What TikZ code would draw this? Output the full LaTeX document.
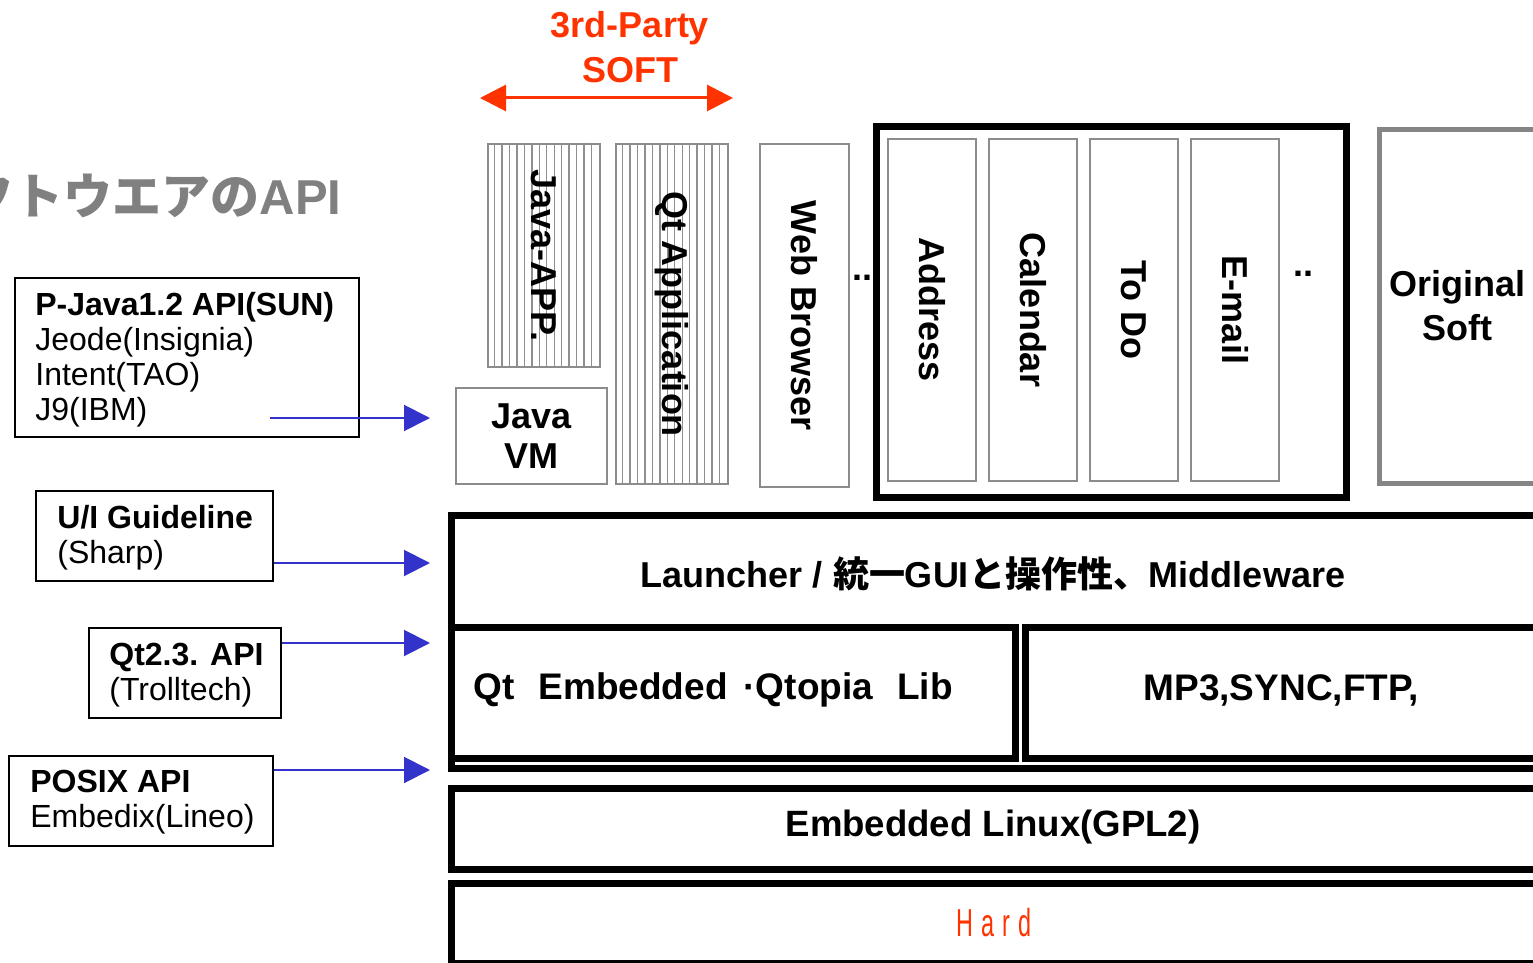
\documentclass[tikz,border=0pt]{standalone}
\usepackage{fontspec}
\setmainfont{Liberation Sans}
\newfontfamily\cjk{Noto Sans CJK JP}
\usetikzlibrary{arrows.meta}
\definecolor{boxgray}{HTML}{8C8C8C}
\definecolor{hatchgray}{HTML}{8F8F8F}
\definecolor{softred}{HTML}{FF3300}
\definecolor{apiblue}{HTML}{3333CC}
\definecolor{titlegray}{HTML}{808080}
\definecolor{origgray}{HTML}{858585}
\begin{document}
\begin{tikzpicture}[x=0.5pt,y=-0.5pt,
  thinbox/.style={draw=boxgray, line width=1pt, inner sep=0pt, anchor=north west},
  thickbox/.style={draw=black, line width=3.5pt, inner sep=0pt, anchor=north west},
  origbox/.style={draw=origgray, line width=2.5pt, inner sep=0pt, anchor=north west},
  apibox/.style={draw=black, line width=1pt, inner sep=0pt, anchor=north west},
  lbl/.style={font=\bfseries\fontsize{18}{20}\selectfont, inner sep=0pt, align=center},
  vlbl/.style={lbl, rotate=-90},
  apitext/.style={font=\fontsize{16}{17.5}\selectfont, align=left, anchor=west, inner sep=0pt},
  apiarrow/.style={draw=apiblue, line width=1pt, -{Triangle[length=13pt,width=13pt]}, fill=apiblue},
  softarrow/.style={draw=softred, line width=1.5pt, {Triangle[length=13pt,width=13pt]}-{Triangle[length=13pt,width=13pt]}, fill=softred},
  hatch/.style={draw=hatchgray, line width=0.7pt}]
\useasboundingbox (0,0) rectangle (1533,963);
\fill[white] (0,0) rectangle (1533,963);
\clip (0,0) rectangle (1533,963);

% title
\node[anchor=base east, inner sep=0pt, text=titlegray, font=\bfseries\fontsize{24.5}{24.5}\selectfont] (title) at (342,214) {{\cjk フトウエアの}API};

% 3rd-party soft
\node[lbl, text=softred, font=\bfseries\fontsize{18}{22.5}\selectfont] (third) at (630,47) {3rd-Party\\SOFT};
\coordinate (sl) at (480,98);
\coordinate (sr) at (733,98);
\draw[softarrow] (sl) -- (sr);

% hatching
\foreach \i in {1,...,14} {\draw[hatch] ({487+\i*112/15},143) -- ({487+\i*112/15},366);}
\foreach \i in {1,...,14} {\draw[hatch] ({615+\i*112/15},143) -- ({615+\i*112/15},483);}

% application boxes
\node[thinbox, minimum width=56pt, minimum height=111.5pt] (javaapp) at (487,143) {};
\node[vlbl] (javaappt) at (javaapp.center) {Java-APP.};
\node[thinbox, minimum width=75.5pt, minimum height=48pt] (javavm) at (455,387) {};
\node[lbl] (javavmt) at (javavm.center) {Java\\VM};
\node[thinbox, minimum width=56pt, minimum height=170pt] (qtapp) at (615,143) {};
\node[vlbl] (qtappt) at (qtapp.center) {Qt Application};
\node[thinbox, minimum width=44.5pt, minimum height=171.5pt] (web) at (759,143) {};
\node[vlbl] (webt) at (web.center) {Web Browser};
\node[lbl] (dots1) at (862,278) {..};

\node[thickbox, minimum width=235pt, minimum height=185.5pt] (group) at (873,123) {};
\node[thinbox, minimum width=44pt, minimum height=171pt] (address) at (887,138) {};
\node[vlbl] (addresst) at (address.center) {Address};
\node[thinbox, minimum width=44pt, minimum height=171pt] (calendar) at (988,138) {};
\node[vlbl] (calendart) at (calendar.center) {Calendar};
\node[thinbox, minimum width=44pt, minimum height=171pt] (todo) at (1089,138) {};
\node[vlbl] (todot) at (todo.center) {To Do};
\node[thinbox, minimum width=44pt, minimum height=171pt] (email) at (1190,138) {};
\node[vlbl] (emailt) at (email.center) {E-mail};
\node[lbl] (dots2) at (1303,274) {..};

\node[origbox, minimum width=80pt, minimum height=177pt] (orig) at (1377,127) {};
\node[lbl, font=\bfseries\fontsize{18}{22}\selectfont] (origt) at (1457,306) {Original\\Soft};

% layers
\node[thickbox, minimum width=546pt, minimum height=126.5pt] (launcher) at (448,512) {};
\node[lbl] (launchert) at (993,574) {Launcher / {\cjk 統一}GUI{\cjk と操作性、}Middleware};
\node[thickbox, minimum width=282pt, minimum height=65.5pt] (qtemb) at (448,624) {};
\node[lbl, anchor=west, font=\bfseries\fontsize{18.5}{20}\selectfont] (qtembt) at (473,690) {Qt\hspace{12pt}Embedded\hspace{8pt}·Qtopia\hspace{12pt}Lib};
\node[thickbox, minimum width=259pt, minimum height=65.5pt] (mp3) at (1022,624) {};
\node[lbl, font=\bfseries\fontsize{18.5}{20}\selectfont] (mp3t) at (1281,690) {MP3,SYNC,FTP,};
\node[thickbox, minimum width=546pt, minimum height=40.5pt] (linux) at (448,785) {};
\node[lbl, font=\bfseries\fontsize{18.3}{20}\selectfont] (linuxt) at (993,827) {Embedded Linux(GPL2)};
\node[thickbox, minimum width=546pt, minimum height=40pt] (hard) at (448,880) {};
\node[inner sep=0pt, text=softred] (hardt) at (994,923) {\scalebox{0.6}[1]{\fontsize{19.5}{20}\selectfont H\hspace{7pt}a\hspace{7pt}r\hspace{7pt}d}};

% API boxes
\node[apibox, minimum width=172pt, minimum height=79.5pt] (pjava) at (14,277) {};
\node[apitext] (pjavat) at (35,360) {{\bfseries P-Java1.2 API(SUN)}\\Jeode(Insignia)\\Intent(TAO)\\J9(IBM)};
\node[apibox, minimum width=118.5pt, minimum height=45pt] (ui) at (35,490) {};
\node[apitext] (uit) at (57,538) {{\bfseries U/I Guideline}\\(Sharp)};
\node[apibox, minimum width=96pt, minimum height=45pt] (qt23) at (88,627) {};
\node[apitext] (qt23t) at (109,675) {{\bfseries Qt2.3. API}\\(Trolltech)};
\node[apibox, minimum width=132pt, minimum height=45pt] (posix) at (8,755) {};
\node[apitext] (posixt) at (30,802) {{\bfseries POSIX API}\\Embedix(Lineo)};

% API arrows
\coordinate (p1) at (270,418);
\coordinate (t1) at (430,418);
\coordinate (t2) at (430,563);
\coordinate (t3) at (430,643);
\coordinate (t4) at (430,770);
\draw[apiarrow] (p1) -- (t1);
\draw[apiarrow] (ui.east |- t2) -- (t2);
\draw[apiarrow] (qt23.east |- t3) -- (t3);
\draw[apiarrow] (posix.east |- t4) -- (t4);
\end{tikzpicture}
\end{document}
